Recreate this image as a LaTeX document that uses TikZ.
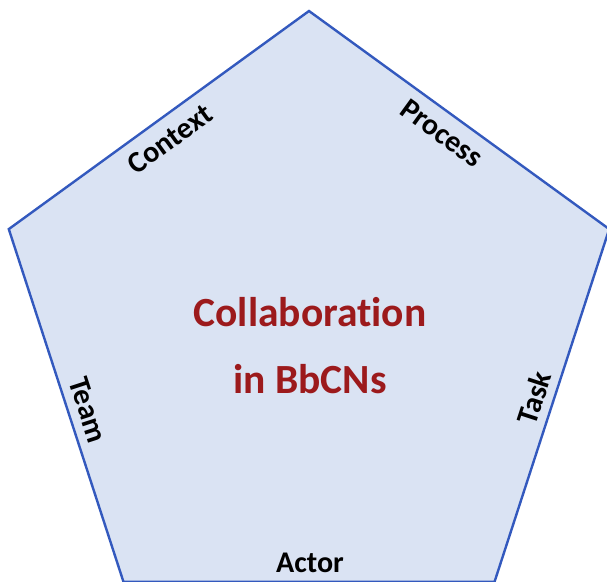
\documentclass[tikz,border=0pt]{standalone}
\usepackage{fontspec}
\setmainfont{Carlito}[Ligatures={NoCommon,TeX}]
\definecolor{pentfill}{HTML}{DAE3F3}
\definecolor{pentline}{HTML}{3359BE}
\definecolor{maintext}{HTML}{9C1A1C}
\tikzset{
  edgelabel/.style={font=\fontsize{30}{36}\selectfont\bfseries, text=black, inner sep=0pt},
  centerlabel/.style={font=\fontsize{41.5}{49}\selectfont\bfseries, text=maintext, inner sep=0pt, anchor=base},
  pentagon/.style={draw=pentline, fill=pentfill, line width=2.4pt, line join=miter}
}
\begin{document}
\begin{tikzpicture}[x=1pt,y=-1pt]
\useasboundingbox (0,0) rectangle (607,581);
\clip (0,0) rectangle (607,581);
\coordinate (c) at (309,326.6);
\coordinate (top) at (309,11);
\coordinate (ul) at (8.8,229.1);
\coordinate (ur) at (609.2,229.1);
\coordinate (bl) at (123.5,581.9);
\coordinate (br) at (494.5,581.9);
\draw[pentagon] (top) -- (ur) -- (br) -- (bl) -- (ul) -- cycle;
\node[centerlabel] (collab) at (310,326) {Collaboration};
\node[centerlabel] (bbcns) at (310,393) {in BbCNs};
\node[edgelabel, rotate=36] (context) at (170,139) {Context};
\node[edgelabel, rotate=-36] (process) at (442,133) {Process};
\node[edgelabel, rotate=-72] (team) at (88,410) {Team};
\node[edgelabel, rotate=72] (task) at (534,398) {Task};
\node[edgelabel, anchor=base] (actor) at (310,572) {Actor};
\end{tikzpicture}
\end{document}
